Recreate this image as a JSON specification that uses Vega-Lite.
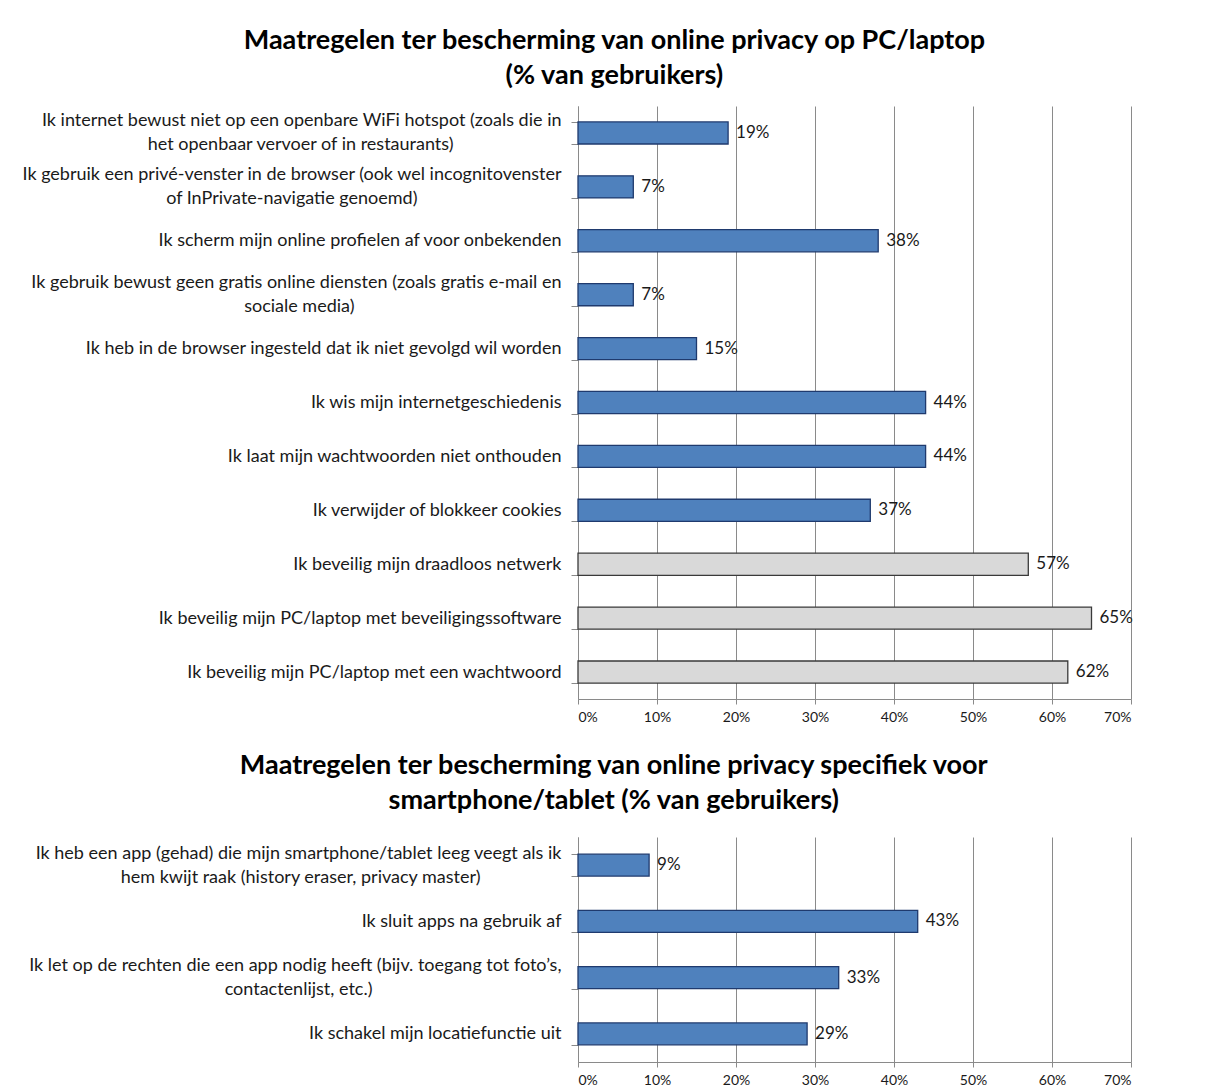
{
  "$schema": "https://vega.github.io/schema/vega-lite/v6.json",
  "background": "white",
  "padding": {"left": 8, "top": 27, "right": 0, "bottom": 0},
  "spacing": 28,
  "config": {
    "font": "Lato",
    "view": {"stroke": null},
    "axis": {"labelFont": "Lato", "labelColor": "#1a1a1a", "domainColor": "#8a8a8a", "tickColor": "#8a8a8a", "gridColor": "#8a8a8a", "title": null},
    "axisY": {"labelFontSize": 18, "labelLineHeight": 12, "labelOffset": -12, "tickSize": 7, "labelPadding": 10, "labelLimit": 600, "minExtent": 570, "maxExtent": 570, "tickBand": "extent", "grid": false},
    "axisX": {"labelFontSize": 14, "tickSize": 5, "labelPadding": 6, "grid": true},
    "title": {"font": "Lato", "fontSize": 27, "fontWeight": "bold", "lineHeight": 35, "color": "#000", "anchor": "middle", "frame": "bounds", "dx": 44}
  },
  "vconcat": [
    {
      "width": 553,
      "height": 593,
      "title": {"text": ["Maatregelen ter bescherming van online privacy op PC/laptop", "(% van gebruikers)"], "offset": 7},
      "data": {"values": [
        {"maatregel": "Ik internet bewust niet op een openbare WiFi hotspot (zoals die in|het openbaar vervoer of in restaurants)", "pct": 0.19, "soort": "aanvullend"},
        {"maatregel": "Ik gebruik een privé-venster in de browser (ook wel incognitovenster|of InPrivate-navigatie genoemd)", "pct": 0.07, "soort": "aanvullend"},
        {"maatregel": "Ik scherm mijn online profielen af voor onbekenden", "pct": 0.38, "soort": "aanvullend"},
        {"maatregel": "Ik gebruik bewust geen gratis online diensten (zoals gratis e-mail en|sociale media)", "pct": 0.07, "soort": "aanvullend"},
        {"maatregel": "Ik heb in de browser ingesteld dat ik niet gevolgd wil worden", "pct": 0.15, "soort": "aanvullend"},
        {"maatregel": "Ik wis mijn internetgeschiedenis", "pct": 0.44, "soort": "aanvullend"},
        {"maatregel": "Ik laat mijn wachtwoorden niet onthouden", "pct": 0.44, "soort": "aanvullend"},
        {"maatregel": "Ik verwijder of blokkeer cookies", "pct": 0.37, "soort": "aanvullend"},
        {"maatregel": "Ik beveilig mijn draadloos netwerk", "pct": 0.57, "soort": "basis"},
        {"maatregel": "Ik beveilig mijn PC/laptop met beveiligingssoftware", "pct": 0.65, "soort": "basis"},
        {"maatregel": "Ik beveilig mijn PC/laptop met een wachtwoord", "pct": 0.62, "soort": "basis"}
      ]},
      "encoding": {
        "y": {"field": "maatregel", "type": "nominal", "sort": null, "scale": {"paddingInner": 0.59, "paddingOuter": 0.295}, "axis": {
          "labelExpr": "indexof(datum.label, '|') < 0 ? ['\u200b', datum.label] : [split(datum.label, '|')[0], '\u200b', pad(split(datum.label, '|')[1], length(split(datum.label, '|')[1]) + (indexof(datum.label, 'WiFi') >= 0 ? 12 : indexof(datum.label, 'incognito') >= 0 ? 16 : 23), '\u2002') + '\u200b']"
        }},
        "x": {"field": "pct", "type": "quantitative", "scale": {"domain": [0, 0.7], "nice": false}, "axis": {"values": [0, 0.1, 0.2, 0.3, 0.4, 0.5, 0.6, 0.7], "format": ".0%"}}
      },
      "layer": [
        {
          "mark": {"type": "bar", "strokeWidth": 1.3},
          "encoding": {
            "fill": {"field": "soort", "type": "nominal", "scale": {"domain": ["aanvullend", "basis"], "range": ["#4f81bd", "#d9d9d9"]}, "legend": null},
            "stroke": {"field": "soort", "type": "nominal", "scale": {"domain": ["aanvullend", "basis"], "range": ["#1f3a6e", "#3a3a3a"]}, "legend": null}
          }
        },
        {
          "mark": {"type": "text", "align": "left", "baseline": "middle", "dx": 8, "fontSize": 17, "color": "#1a1a1a"},
          "encoding": {"text": {"field": "pct", "type": "quantitative", "format": ".0%"}}
        }
      ]
    },
    {
      "width": 553,
      "height": 225,
      "title": {"text": ["Maatregelen ter bescherming van online privacy specifiek voor", "smartphone/tablet (% van gebruikers)"], "offset": 13},
      "data": {"values": [
        {"maatregel": "Ik heb een app (gehad) die mijn smartphone/tablet leeg veegt als ik|hem kwijt raak (history eraser, privacy master)", "pct": 0.09},
        {"maatregel": "Ik sluit apps na gebruik af", "pct": 0.43},
        {"maatregel": "Ik let op de rechten die een app nodig heeft (bijv. toegang tot foto’s,|contactenlijst, etc.)", "pct": 0.33},
        {"maatregel": "Ik schakel mijn locatiefunctie uit", "pct": 0.29}
      ]},
      "encoding": {
        "y": {"field": "maatregel", "type": "nominal", "sort": null, "scale": {"paddingInner": 0.61, "paddingOuter": 0.305}, "axis": {
          "labelExpr": "indexof(datum.label, '|') < 0 ? ['\u200b', datum.label] : [split(datum.label, '|')[0], '\u200b', pad(split(datum.label, '|')[1], length(split(datum.label, '|')[1]) + (indexof(datum.label, 'veegt') >= 0 ? 9 : 21), '\u2002') + '\u200b']"
        }},
        "x": {"field": "pct", "type": "quantitative", "scale": {"domain": [0, 0.7], "nice": false}, "axis": {"values": [0, 0.1, 0.2, 0.3, 0.4, 0.5, 0.6, 0.7], "format": ".0%"}}
      },
      "layer": [
        {"mark": {"type": "bar", "fill": "#4f81bd", "stroke": "#1f3a6e", "strokeWidth": 1.3}},
        {
          "mark": {"type": "text", "align": "left", "baseline": "middle", "dx": 8, "fontSize": 17, "color": "#1a1a1a"},
          "encoding": {"text": {"field": "pct", "type": "quantitative", "format": ".0%"}}
        }
      ]
    }
  ]
}
